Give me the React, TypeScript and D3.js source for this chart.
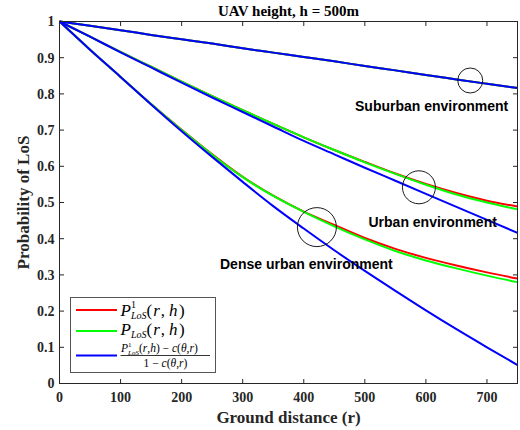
import React from "react";
import * as d3 from "d3";

// ground distance samples (m)
const distance = [0, 50, 100, 150, 200, 250, 300, 350, 400, 450, 500, 550, 600, 650, 700, 750];

// suburban
const suburbanP1 = [1, 0.988, 0.976, 0.963, 0.951, 0.939, 0.926, 0.914, 0.902, 0.89, 0.877, 0.865, 0.852, 0.84, 0.828, 0.816];
const suburbanP = [1, 0.988, 0.976, 0.963, 0.951, 0.939, 0.926, 0.914, 0.902, 0.89, 0.877, 0.865, 0.852, 0.84, 0.828, 0.816];
const suburbanCorr = [1, 0.988, 0.976, 0.963, 0.951, 0.939, 0.926, 0.914, 0.902, 0.89, 0.877, 0.865, 0.852, 0.84, 0.828, 0.816];

// urban
const urbanP1 = [1, 0.958, 0.916, 0.875, 0.834, 0.794, 0.755, 0.717, 0.68, 0.645, 0.612, 0.58, 0.551, 0.526, 0.505, 0.489];
const urbanP = [1, 0.958, 0.916, 0.875, 0.834, 0.794, 0.755, 0.717, 0.68, 0.645, 0.611, 0.579, 0.549, 0.522, 0.5, 0.481];
const urbanCorr = [1, 0.958, 0.915, 0.873, 0.831, 0.79, 0.75, 0.71, 0.67, 0.633, 0.596, 0.56, 0.524, 0.488, 0.452, 0.416];

// dense urban
const denseP1 = [1, 0.922, 0.847, 0.772, 0.701, 0.633, 0.571, 0.519, 0.475, 0.438, 0.402, 0.372, 0.347, 0.326, 0.307, 0.29];
const denseP = [1, 0.922, 0.847, 0.772, 0.7, 0.632, 0.57, 0.518, 0.474, 0.434, 0.398, 0.366, 0.34, 0.318, 0.298, 0.28];
const denseCorr = [1, 0.922, 0.847, 0.771, 0.697, 0.626, 0.557, 0.49, 0.428, 0.368, 0.311, 0.256, 0.202, 0.15, 0.1, 0.051];

const xTicks = [0, 100, 200, 300, 400, 500, 600, 700];
const yTicks = [0, 0.1, 0.2, 0.3, 0.4, 0.5, 0.6, 0.7, 0.8, 0.9, 1];

// circled spots + labels (data coords)
const marks = [
  { r: 672.6, p: 0.837, rad: 12.5, label: "Suburban environment", lx: 355, ly: 110.5 },
  { r: 588.6, p: 0.542, rad: 16.5, label: "Urban environment", lx: 368.5, ly: 227 },
  { r: 421.5, p: 0.432, rad: 19.5, label: "Dense urban environment", lx: 220, ly: 268.5 },
];

const RED = "#ff0000";
const GREEN = "#00ff00";
const BLUE = "#0000ff";
const AXIS = "#262626";
const SERIF = "'Liberation Serif', 'Times New Roman', serif";
const SANS = "'Liberation Sans', Arial, sans-serif";

export default function App() {
  const width = 520;
  const height = 430;
  const margin = { left: 59.5, right: 2.5, top: 21.5, bottom: 46.5 };

  const x = d3.scaleLinear().domain([0, 750]).range([margin.left, width - margin.right]);
  const y = d3.scaleLinear().domain([0, 1]).range([height - margin.bottom, margin.top]);

  const line = d3
    .line<number>()
    .x((_, i) => x(distance[i]))
    .y((d) => y(d))
    .curve(d3.curveMonotoneX);

  const series = [
    { vals: suburbanP1, color: RED },
    { vals: urbanP1, color: RED },
    { vals: denseP1, color: RED },
    { vals: suburbanP, color: GREEN },
    { vals: urbanP, color: GREEN },
    { vals: denseP, color: GREEN },
    { vals: suburbanCorr, color: BLUE },
    { vals: urbanCorr, color: BLUE },
    { vals: denseCorr, color: BLUE },
  ];

  const [x0, x1] = x.range();
  const [y0, y1] = y.range();
  const tk = 4.5;

  return (
    <svg
      width={width}
      height={height}
      style={{ position: "absolute", left: 0, top: 0, background: "#fff" }}
    >
      <rect x={0} y={0} width={width} height={height} fill="#fff" />

      {/* curves */}
      <g fill="none" strokeWidth={2}>
        {series.map((s, i) => (
          <path key={i} d={line(s.vals) ?? ""} stroke={s.color} />
        ))}
      </g>

      {/* circles and labels */}
      {marks.map((m) => (
        <g key={m.label}>
          <circle cx={x(m.r)} cy={y(m.p)} r={m.rad} fill="none" stroke="#000" strokeWidth={0.9} />
          <text x={m.lx} y={m.ly} fontFamily={SANS} fontWeight="bold" fontSize={14} fill="#000">
            {m.label}
          </text>
        </g>
      ))}

      {/* axes box + ticks */}
      <g stroke={AXIS} strokeWidth={1} fill="none">
        <rect x={x0} y={y1} width={x1 - x0} height={y0 - y1} />
        {xTicks.map((t) => (
          <g key={"xt" + t}>
            <line x1={x(t)} x2={x(t)} y1={y0} y2={y0 - tk} />
            <line x1={x(t)} x2={x(t)} y1={y1} y2={y1 + tk} />
          </g>
        ))}
        {yTicks.map((t) => (
          <g key={"yt" + t}>
            <line x1={x0} x2={x0 + tk} y1={y(t)} y2={y(t)} />
            <line x1={x1} x2={x1 - tk} y1={y(t)} y2={y(t)} />
          </g>
        ))}
      </g>

      <g fontFamily={SERIF} fontWeight="bold" fontSize={14} fill={AXIS}>
        {xTicks.map((t) => (
          <text key={"xl" + t} x={x(t)} y={402} textAnchor="middle">
            {t}
          </text>
        ))}
        {yTicks.map((t) => (
          <text key={"yl" + t} x={54.5} y={y(t)} dy="0.35em" textAnchor="end">
            {d3.format("~g")(t)}
          </text>
        ))}
      </g>

      {/* titles */}
      <text x={(x0 + x1) / 2} y={16} textAnchor="middle" fontFamily={SERIF} fontWeight="bold" fontSize={15} fill="#000">
        UAV height, h = 500m
      </text>
      <text x={(x0 + x1) / 2} y={423} textAnchor="middle" fontFamily={SERIF} fontWeight="bold" fontSize={17} fill={AXIS}>
        Ground distance (r)
      </text>
      <text
        transform={`translate(28.5,${(y0 + y1) / 2}) rotate(-90)`}
        textAnchor="middle"
        fontFamily={SERIF}
        fontWeight="bold"
        fontSize={17}
        fill={AXIS}
      >
        Probability of LoS
      </text>

      {/* legend */}
      <g>
        <rect x={70.5} y={297.5} width={145} height={75} fill="#fff" stroke="#555" strokeWidth={1} />
        <line x1={76} x2={117} y1={310} y2={310} stroke={RED} strokeWidth={2} />
        <line x1={76} x2={117} y1={331} y2={331} stroke={GREEN} strokeWidth={2} />
        <line x1={76} x2={117} y1={355.5} y2={355.5} stroke={BLUE} strokeWidth={2} />

        <g fontFamily={SERIF} fill="#000">
          {/* row 1 */}
          <text x={120.5} y={316} fontSize={17}>
            <tspan fontStyle="italic">P</tspan>
            <tspan fontSize={10} dy={-8}>1</tspan>
            <tspan fontSize={10} fontStyle="italic" dx={-5} dy={10.5}>LoS</tspan>
            <tspan dy={-2.5}>(</tspan>
            <tspan fontStyle="italic" dx={1}>r</tspan>
            <tspan dx={1}>,</tspan>
            <tspan fontStyle="italic" dx={4}>h</tspan>
            <tspan dx={1.5}>)</tspan>
          </text>
          {/* row 2 */}
          <text x={120.5} y={335} fontSize={17}>
            <tspan fontStyle="italic">P</tspan>
            <tspan fontSize={10} fontStyle="italic" dy={2.5}>LoS</tspan>
            <tspan dy={-2.5}>(</tspan>
            <tspan fontStyle="italic" dx={1}>r</tspan>
            <tspan dx={1}>,</tspan>
            <tspan fontStyle="italic" dx={4}>h</tspan>
            <tspan dx={1.5}>)</tspan>
          </text>
          {/* row 3: fraction */}
          <text x={121} y={351.5} fontSize={11.5}>
            <tspan fontStyle="italic">P</tspan>
            <tspan fontSize={7} dy={-5}>1</tspan>
            <tspan fontSize={7} fontStyle="italic" dx={-3.5} dy={8}>LoS</tspan>
            <tspan dy={-3}>(</tspan>
            <tspan fontStyle="italic">r</tspan>
            <tspan>,</tspan>
            <tspan fontStyle="italic">h</tspan>
            <tspan>) − </tspan>
            <tspan fontStyle="italic">c</tspan>
            <tspan>(</tspan>
            <tspan fontStyle="italic">θ</tspan>
            <tspan>,</tspan>
            <tspan fontStyle="italic">r</tspan>
            <tspan>)</tspan>
          </text>
          <line x1={120.5} x2={210} y1={355.5} y2={355.5} stroke="#000" strokeWidth={0.8} />
          <text x={165.5} y={366.5} fontSize={11.5} textAnchor="middle">
            <tspan>1 − </tspan>
            <tspan fontStyle="italic">c</tspan>
            <tspan>(</tspan>
            <tspan fontStyle="italic">θ</tspan>
            <tspan>,</tspan>
            <tspan fontStyle="italic">r</tspan>
            <tspan>)</tspan>
          </text>
        </g>
      </g>
    </svg>
  );
}
